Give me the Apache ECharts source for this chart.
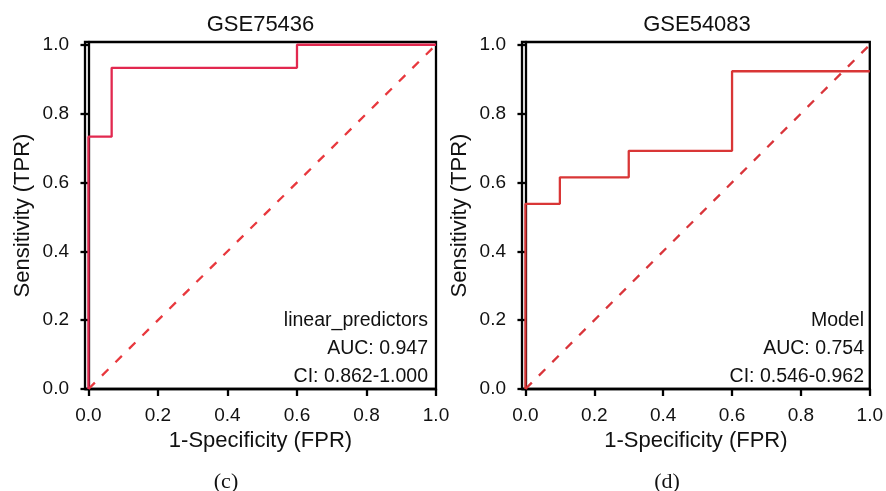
<!DOCTYPE html>
<html>
<head>
    <meta charset="UTF-8">
    <title>ROC curves</title>
    <script src="https://cdn.jsdelivr.net/npm/echarts/dist/echarts.min.js"></script>
    <style>
        html, body { margin: 0; padding: 0; background: #fff; }
        #main { width: 886px; height: 491px; }
    </style>
</head>
<body>
    <div id="main"></div>
    <script type="text/javascript">
        // ROC steps
        var fprC = [0, 0, 0.0667, 0.0667, 0.6, 0.6, 1.0];
        var tprC = [0, 0.733, 0.733, 0.933, 0.933, 1.0, 1.0];
        var fprD = [0, 0, 0.1, 0.1, 0.3, 0.3, 0.6, 0.6, 1.0];
        var tprD = [0, 0.538, 0.538, 0.615, 0.615, 0.692, 0.692, 0.923, 0.923];
        var diagX = [0, 1];
        var diagY = [0, 1];
        var tickValues = [0, 0.2, 0.4, 0.6, 0.8, 1.0];
        var titles = ['GSE75436', 'GSE54083'];
        var notes = [
            ['linear_predictors', 'AUC: 0.947', 'CI: 0.862-1.000'],
            ['Model', 'AUC: 0.754', 'CI: 0.546-0.962']
        ];
        var panelTags = ['(c)', '(d)'];

        var font = 'Liberation Sans, Arial, sans-serif';
        var zip = function (xs, ys) { return xs.map(function (x, i) { return [x, ys[i]]; }); };

        var chart = echarts.init(document.getElementById('main'));

        var gridLefts = [85, 522];
        var gridWidths = [351, 350];

        function xAx(i) {
            return {
                type: 'value', gridIndex: i, min: -0.01, max: 1.0,
                name: '1-Specificity (FPR)', nameLocation: 'middle', nameGap: 40,
                nameTextStyle: { fontSize: 22, color: '#111', fontFamily: font },
                axisLine: { show: true, onZero: false, lineStyle: { color: '#000', width: 2.3 } },
                axisTick: { show: true, length: 7, customValues: tickValues, lineStyle: { color: '#000', width: 2.3 } },
                axisLabel: { customValues: tickValues, margin: 17, fontSize: 19, color: '#111', fontFamily: font,
                    formatter: function (v) { return v.toFixed(1); } },
                splitLine: { show: false }
            };
        }
        function yAx(i) {
            return {
                type: 'value', gridIndex: i, min: 0, max: 1.008,
                name: 'Sensitivity (TPR)', nameLocation: 'middle', nameGap: 51,
                nameTextStyle: { fontSize: 22, color: '#111', fontFamily: font },
                axisLine: { show: true, lineStyle: { color: '#000', width: 2.3 } },
                axisTick: { show: true, length: 8, customValues: tickValues, lineStyle: { color: '#000', width: 2.3 } },
                axisLabel: { customValues: tickValues, margin: 16, fontSize: 19, color: '#111', fontFamily: font,
                    formatter: function (v) { return v.toFixed(1); } },
                splitLine: { show: false }
            };
        }

        var graphics = [];
        [0, 1].forEach(function (i) {
            var cx = gridLefts[i] + gridWidths[i] / 2;
            graphics.push({
                type: 'text', x: cx, y: 25,
                style: { text: titles[i], fontSize: 22, fontFamily: font, fill: '#111', align: 'center', verticalAlign: 'middle' }
            });
            graphics.push({
                type: 'text', x: gridLefts[i] + gridWidths[i] - 8, y: 307,
                style: { text: notes[i].join('\n'), fontSize: 19.5, lineHeight: 28, fontFamily: font, fill: '#111',
                    align: 'right', verticalAlign: 'top' }
            });
            graphics.push({
                type: 'text', x: i === 0 ? 226 : 667, y: 482,
                style: { text: panelTags[i], fontSize: 22, fontFamily: 'Liberation Serif, Times New Roman, serif', fill: '#111',
                    align: 'center', verticalAlign: 'middle' }
            });
        });

        var option = {
            animation: false,
            backgroundColor: '#fff',
            grid: [0, 1].map(function (i) {
                return { left: gridLefts[i], top: 42, width: gridWidths[i], height: 347,
                    show: true, borderColor: '#000', borderWidth: 2.3, backgroundColor: 'transparent' };
            }),
            xAxis: [xAx(0), xAx(1)],
            yAxis: [yAx(0), yAx(1)],
            graphic: graphics,
            series: [
                {
                    type: 'line', xAxisIndex: 0, yAxisIndex: 0, data: zip(diagX, diagY),
                    showSymbol: false, lineStyle: { color: '#E8383D', width: 2.3, type: [9, 10] }
                },
                {
                    type: 'line', xAxisIndex: 0, yAxisIndex: 0, data: zip(fprC, tprC),
                    showSymbol: false, lineStyle: { color: '#E2284F', width: 2.3 }
                },
                {
                    type: 'line', xAxisIndex: 1, yAxisIndex: 1, data: zip(diagX, diagY),
                    showSymbol: false, lineStyle: { color: '#D9343A', width: 2.3, type: [9, 10] }
                },
                {
                    type: 'line', xAxisIndex: 1, yAxisIndex: 1, data: zip(fprD, tprD),
                    showSymbol: false, lineStyle: { color: '#D93636', width: 2.3 }
                }
            ]
        };
        chart.setOption(option);
    </script>
</body>
</html>
